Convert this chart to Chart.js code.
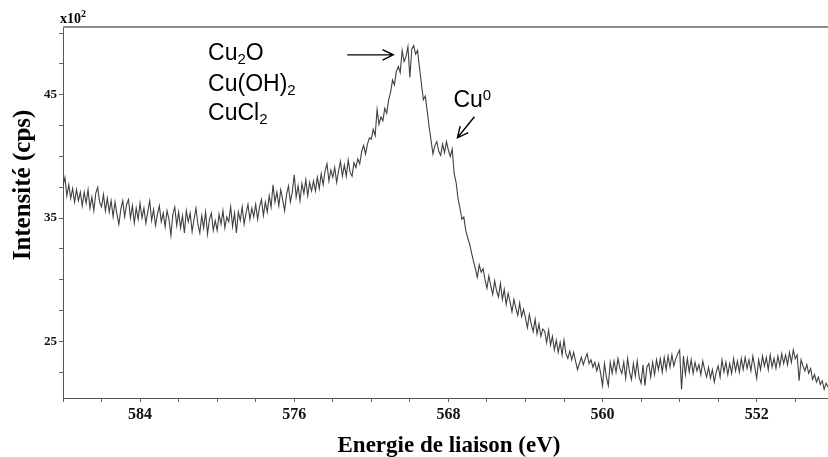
<!DOCTYPE html>
<html>
<head>
<meta charset="utf-8">
<script src="https://cdn.jsdelivr.net/npm/chart.js@4.4.1/dist/chart.umd.min.js"></script>
<style>
  html, body { margin: 0; padding: 0; background: #fff; }
  canvas { display: block; }
</style>
</head>
<body>
<canvas id="xps" width="828" height="457"></canvas>
<script>
// Binding-energy grid (eV), sampled from high to low energy
const energyStart = 588.0;
const energyStep = 0.1;

// Measured intensity, in units of 10^2 cps, one value per grid step
const intensity = [
  37.6, 38.3, 36.8, 37.7, 36.6, 37.4, 36.3, 37.3, 36.4, 37.1,
  36.0, 37.1, 36.2, 37.3, 35.8, 36.7, 35.6, 37.0, 37.5, 36.3,
  35.9, 36.9, 35.6, 36.6, 35.5, 36.4, 35.1, 36.3, 35.3, 34.5,
  35.7, 36.4, 35.1, 36.1, 36.5, 35.0, 36.0, 34.6, 35.8, 34.9,
  36.2, 35.0, 35.8, 34.6, 35.5, 36.4, 34.8, 35.7, 34.4, 35.3,
  36.0, 34.7, 35.4, 34.3, 35.6, 34.9, 33.6, 35.3, 35.9, 34.4,
  35.5, 34.2, 35.2, 33.8, 35.6, 34.7, 35.4, 33.9, 34.9, 35.8,
  34.5, 33.8, 35.2, 34.2, 35.5, 33.7, 34.9, 35.4, 34.0, 34.8,
  34.0, 35.3, 34.5, 35.6, 34.2, 35.1, 34.7, 35.9, 34.3, 35.4,
  33.8, 35.5, 34.8, 35.9, 34.5, 35.4, 36.1, 34.9, 35.8, 35.1,
  36.1, 34.9, 35.9, 36.5, 35.2, 36.3, 35.5, 36.8, 35.9, 37.7,
  36.3, 37.1, 36.0, 37.3, 36.5, 35.6, 36.9, 37.6, 36.3, 37.1,
  38.5, 36.7, 37.6, 36.4, 37.8, 37.0, 38.1, 36.8, 37.9, 37.2,
  38.0, 37.2, 38.3, 37.4, 38.6, 37.7, 38.8, 39.4, 38.0, 38.9,
  38.3, 39.1, 37.9, 38.8, 39.6, 38.4, 39.3, 38.4, 39.7, 38.7,
  38.4, 39.5, 39.1, 39.8, 39.4, 40.4, 40.9, 40.2, 41.0, 41.5,
  41.4, 42.2, 41.7, 43.8, 42.6, 43.2, 42.9, 43.9, 43.5, 44.6,
  45.2, 46.2, 45.8, 46.9, 47.3, 46.8, 48.6, 47.7, 48.1, 48.9,
  46.4, 48.7, 49.0, 48.3, 48.6, 47.2, 45.9, 44.6, 44.9, 43.7,
  42.4, 41.3, 40.2, 40.9, 41.2, 40.4, 40.1, 41.0, 40.3, 41.2,
  40.5, 40.0, 40.6, 38.6, 37.9, 36.6, 35.8, 34.9, 35.1, 34.0,
  33.4, 32.9, 32.2, 31.5, 30.9, 30.2, 31.2, 30.6, 30.9, 30.0,
  29.3, 30.3, 29.5, 28.8, 29.9, 29.1, 28.6, 29.7, 28.4, 29.2,
  28.0, 28.9, 28.2, 27.4, 28.4, 27.7, 27.1, 28.1, 27.0, 27.6,
  26.9, 26.1, 27.2, 26.4, 25.8, 26.8, 25.6, 26.4, 25.4, 26.0,
  25.8, 24.9, 25.9, 24.7, 25.4, 24.3, 25.1, 24.1, 24.9, 23.9,
  25.1, 24.0, 23.6, 24.2, 23.5, 24.1, 23.4, 22.7, 23.2, 23.7,
  23.1, 23.6, 24.0, 23.2, 23.5, 22.9, 23.3, 22.6, 23.2, 22.4,
  21.4, 23.2, 22.1, 21.4, 23.3, 22.4, 23.4, 22.5, 23.6, 22.8,
  22.4, 23.3, 22.0, 23.6, 22.5, 21.9, 23.2, 22.2, 23.4, 22.1,
  21.6, 23.1, 21.4, 22.9, 23.2, 22.1, 23.3, 22.3, 23.5, 22.7,
  23.6, 22.5, 23.7, 22.7, 23.8, 22.9, 23.9, 23.0, 23.6, 24.0,
  24.3, 21.1, 23.8, 22.3, 23.6, 22.5, 23.5, 22.4, 23.3, 22.6,
  23.1, 22.3, 23.4, 22.7, 22.1, 22.9, 22.0, 22.7, 21.7, 22.5,
  23.0, 22.1, 23.5, 22.5, 23.3, 22.3, 23.2, 22.4, 23.6, 22.6,
  23.4, 22.5, 23.6, 22.7, 23.7, 22.8, 23.5, 22.6, 23.8, 22.9,
  22.0, 23.5, 22.7, 23.8, 23.0, 23.7, 22.7, 23.9, 22.9, 23.6,
  22.8, 23.8, 23.0, 24.0, 23.2, 23.9, 23.1, 24.1, 23.3, 24.3,
  23.6, 23.9, 21.8, 23.5, 23.0, 22.6, 23.1, 22.4, 22.8, 21.9,
  22.3, 21.7, 22.1, 21.5, 21.8, 21.1, 21.6, 21.3
];

// Axis ranges and ticks
const xRange = [548.3, 588];
const yRange = [20.4, 50.5];
const xLabelled = [584, 576, 568, 560, 552];
const xMinorStep = 2;
const yLabelled = [25, 35, 45];
const yMinorStep = 2.5;

// Texts
const xTitle = 'Energie de liaison (eV)';
const yTitle = 'Intensité (cps)';
const yScaleNote = ['x10', '2'];

// Peak assignments: text pieces (0 = normal, 1 = subscript, 2 = superscript),
// anchored in data coordinates (energy, intensity)
const speciesLabels = [
  { parts: [['Cu', 0], ['2', 1], ['O', 0]], e: 580.47, v: 47.84 },
  { parts: [['Cu(OH)', 0], ['2', 1]], e: 580.47, v: 45.32 },
  { parts: [['CuCl', 0], ['2', 1]], e: 580.47, v: 42.97 },
  { parts: [['Cu', 0], ['0', 2]], e: 567.74, v: 44.03 }
];
const arrows = [
  { from: [573.25, 48.24], to: [570.86, 48.24] },
  { from: [566.65, 43.22], to: [567.53, 41.51] }
];

const points = intensity.map((v, i) => ({
  x: +(energyStart - i * energyStep).toFixed(2),
  y: v
}));

const serif = '"Liberation Serif", "Times New Roman", serif';
const sans = '"Liberation Sans", Arial, sans-serif';

function drawFormula(ctx, parts, x, y, size) {
  let cx = x;
  for (const [txt, mode] of parts) {
    const s = mode === 0 ? size : Math.round(size * 0.66);
    const dy = mode === 1 ? size * 0.17 : (mode === 2 ? -size * 0.3 : 0);
    ctx.font = s + 'px ' + sans;
    ctx.fillText(txt, cx, y + dy);
    cx += ctx.measureText(txt).width;
  }
}

function drawArrow(ctx, x0, y0, x1, y1) {
  const ang = Math.atan2(y1 - y0, x1 - x0);
  const head = 12, spread = 0.45;
  ctx.beginPath();
  ctx.moveTo(x0, y0);
  ctx.lineTo(x1, y1);
  ctx.moveTo(x1 - head * Math.cos(ang - spread), y1 - head * Math.sin(ang - spread));
  ctx.lineTo(x1, y1);
  ctx.lineTo(x1 - head * Math.cos(ang + spread), y1 - head * Math.sin(ang + spread));
  ctx.stroke();
}

const overlay = {
  id: 'overlay',
  afterDraw(chart) {
    const ctx = chart.ctx;
    const area = chart.chartArea;
    const xs = chart.scales.x, ys = chart.scales.y;
    ctx.save();

    // top frame line
    ctx.strokeStyle = '#8c8c8c';
    ctx.lineWidth = 2;
    ctx.beginPath();
    ctx.moveTo(area.left, area.top);
    ctx.lineTo(area.right, area.top);
    ctx.stroke();

    ctx.fillStyle = '#000';
    ctx.textBaseline = 'alphabetic';

    // intensity multiplier note
    ctx.textAlign = 'left';
    ctx.font = 'bold 14px ' + serif;
    ctx.fillText(yScaleNote[0], area.left - 3, area.top - 4);
    const w = ctx.measureText(yScaleNote[0]).width;
    ctx.font = 'bold 10px ' + serif;
    ctx.fillText(yScaleNote[1], area.left - 3 + w, area.top - 10);

    // axis titles
    ctx.font = 'bold 23px ' + serif;
    ctx.textAlign = 'center';
    ctx.fillText(xTitle, 449, 452);
    ctx.save();
    ctx.translate(30, 185);
    ctx.rotate(-Math.PI / 2);
    ctx.font = 'bold 25px ' + serif;
    ctx.fillText(yTitle, 0, 0);
    ctx.restore();

    // peak assignments
    ctx.textAlign = 'left';
    for (const lab of speciesLabels) {
      drawFormula(ctx, lab.parts, xs.getPixelForValue(lab.e), ys.getPixelForValue(lab.v), 23);
    }
    ctx.strokeStyle = '#000';
    ctx.lineWidth = 1.4;
    for (const a of arrows) {
      drawArrow(ctx,
        xs.getPixelForValue(a.from[0]), ys.getPixelForValue(a.from[1]),
        xs.getPixelForValue(a.to[0]), ys.getPixelForValue(a.to[1]));
    }
    ctx.restore();
  }
};

function stepTicks(lo, hi, step) {
  const out = [];
  const first = Math.ceil(lo / step) * step;
  for (let v = first; v <= hi + 1e-9; v += step) out.push({ value: +v.toFixed(3) });
  return out;
}

new Chart(document.getElementById('xps').getContext('2d'), {
  type: 'line',
  data: {
    datasets: [{
      data: points,
      borderColor: '#404040',
      borderWidth: 1.1,
      pointRadius: 0,
      tension: 0,
      fill: false
    }]
  },
  options: {
    responsive: false,
    animation: false,
    events: [],
    layout: { padding: { top: 27, right: 0, left: 0, bottom: 0 } },
    plugins: { legend: { display: false }, tooltip: { enabled: false } },
    scales: {
      x: {
        type: 'linear',
        reverse: true,
        min: xRange[0],
        max: xRange[1],
        afterBuildTicks: s => { s.ticks = stepTicks(xRange[0], xRange[1], xMinorStep); },
        afterFit: s => { s.height = 59; },
        grid: { drawOnChartArea: false, drawTicks: true, tickLength: 4, color: '#666' },
        border: { display: true, color: '#555', width: 1 },
        ticks: {
          autoSkip: false, maxRotation: 0, padding: 3, color: '#111',
          font: { family: serif, size: 16, weight: 'bold' },
          callback: v => xLabelled.includes(v) ? String(v) : ''
        }
      },
      y: {
        type: 'linear',
        min: yRange[0],
        max: yRange[1],
        afterBuildTicks: s => { s.ticks = stepTicks(yRange[0], yRange[1], yMinorStep); },
        afterFit: s => { s.width = 63; },
        grid: { drawOnChartArea: false, drawTicks: true, tickLength: 4, color: '#666' },
        border: { display: true, color: '#555', width: 1 },
        ticks: {
          autoSkip: false, padding: 2, color: '#111',
          font: { family: serif, size: 13, weight: 'bold' },
          callback: v => yLabelled.includes(v) ? String(v) : ''
        }
      }
    }
  },
  plugins: [overlay]
});
</script>
</body>
</html>
